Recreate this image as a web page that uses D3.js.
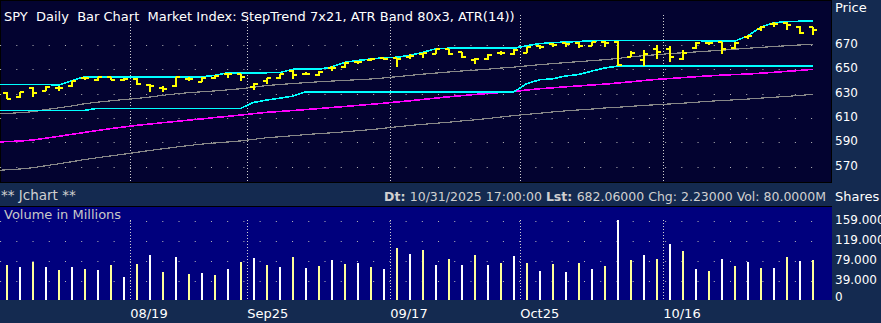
<!DOCTYPE html>
<html>
<head>
<meta charset="utf-8">
<script src="https://cdn.jsdelivr.net/npm/d3@7"></script>
<style>
  body { margin: 0; background: #142a50; }
  svg { display: block; font-family: "DejaVu Sans", sans-serif; }
  text { white-space: pre; }
</style>
</head>
<body>
<svg id="chart" width="881" height="323"></svg>
<script>
// trading days shown (aug 5 .. oct 31 2025)
var dates = ["08/05","08/06","08/07","08/08","08/11","08/12","08/13","08/14","08/15","08/18",
  "08/19","08/20","08/21","08/22","08/25","08/26","08/27","08/28","08/29",
  "09/02","09/03","09/04","09/05","09/08","09/09","09/10","09/11","09/12","09/15","09/16",
  "09/17","09/18","09/19","09/22","09/23","09/24","09/25","09/26","09/29","09/30",
  "10/01","10/02","10/03","10/06","10/07","10/08","10/09","10/10","10/13","10/14",
  "10/15","10/16","10/17","10/20","10/21","10/22","10/23","10/24","10/27","10/28",
  "10/29","10/30","10/31"];

var open = [630.3, 627.3, 635.0, 632.0, 634.9, 636.3, 643.2, 641.0, 643.5, 641.0,
  642.1, 637.2, 634.4, 636.1, 642.1, 639.9, 642.7, 646.0, 646.0, 635.5,
  640.5, 642.7, 648.7, 646.2, 645.4, 651.4, 652.2, 655.8, 657.7, 659.1,
  659.1, 660.2, 662.4, 662.4, 666.5, 664.3, 658.0, 658.6, 663.7, 662.7,
  663.5, 669.5, 670.7, 671.5, 672.0, 669.3, 672.8, 672.8, 660.5, 657.7,
  666.5, 666.5, 658.8, 667.4, 671.5, 672.3, 667.9, 676.9, 683.0, 687.4,
  688.4, 684.7, 684.7];
var high = [631.2, 631.6, 635.3, 636.1, 636.6, 640.7, 643.7, 643.7, 643.7, 642.7,
  642.7, 637.7, 636.6, 643.7, 643.7, 643.7, 645.4, 646.8, 646.0, 638.8,
  643.2, 646.5, 649.3, 647.6, 648.7, 652.6, 655.8, 656.9, 659.1, 659.6,
  659.1, 662.4, 663.7, 666.8, 666.8, 664.6, 659.1, 662.4, 665.1, 666.8,
  668.7, 670.1, 671.7, 671.7, 672.3, 672.8, 673.4, 673.4, 665.1, 666.0,
  670.1, 669.3, 665.7, 672.3, 672.8, 672.6, 672.3, 678.3, 685.7, 689.0,
  689.0, 685.5, 684.7];
var low = [625.6, 626.7, 627.0, 632.0, 632.5, 635.8, 641.0, 640.5, 641.0, 640.7,
  637.2, 631.2, 631.6, 635.8, 640.5, 639.4, 642.5, 643.2, 640.7, 632.8,
  638.0, 641.9, 641.9, 645.1, 644.6, 648.4, 651.4, 654.4, 657.2, 658.0,
  652.2, 658.8, 659.6, 662.4, 661.9, 659.6, 654.2, 657.7, 661.9, 661.9,
  663.3, 666.5, 668.2, 668.7, 667.4, 669.0, 668.7, 653.0, 660.5, 653.0,
  658.8, 656.3, 658.0, 667.0, 669.8, 662.9, 666.8, 675.3, 681.9, 684.7,
  682.7, 679.4, 678.6];
var close = [625.6, 631.4, 630.8, 635.8, 634.4, 640.5, 642.7, 643.5, 641.5, 642.1,
  638.0, 636.3, 634.1, 643.5, 641.9, 643.2, 644.6, 646.2, 643.5, 638.2,
  642.7, 646.5, 645.4, 646.5, 648.1, 650.9, 655.5, 656.1, 658.6, 658.3,
  658.3, 661.3, 663.3, 666.8, 662.7, 660.5, 658.6, 661.9, 663.7, 665.7,
  668.2, 668.7, 669.8, 670.7, 669.5, 672.3, 671.5, 653.6, 663.3, 662.4,
  664.3, 660.5, 663.7, 671.7, 671.7, 667.0, 671.7, 677.5, 685.1, 687.1,
  686.8, 679.7, 682.06];

// volume in millions
var volume = [70, 66, 77, 66, 60, 66, 62, 60, 70, 46,
  72, 90, 56, 86, 52, 54, 50, 62, 76, 84,
  70, 66, 86, 65, 69, 81, 73, 75, 67, 63,
  105, 93, 101, 71, 83, 71, 91, 71, 75, 89,
  75, 59, 73, 57, 75, 63, 69, 161, 81, 91,
  83, 113, 99, 63, 59, 83, 69, 77, 65, 65,
  87, 79, 80];

// steptrend 7x21 upper / lower
var stepUpper = [637.7, 637.7, 637.7, 637.7, 637.0, 640.8, 644.0, 644.0, 644.0, 644.0,
  644.0, 644.0, 644.0, 644.0, 644.0, 644.0, 645.1, 647.3, 647.3, 647.3,
  647.3, 647.4, 650.1, 650.1, 650.1, 652.0, 655.8, 657.4, 658.5, 659.6,
  660.0, 661.5, 664.0, 667.0, 667.4, 667.4, 667.4, 667.4, 667.4, 667.4,
  669.5, 671.2, 672.0, 672.5, 673.0, 673.5, 673.8, 673.8, 673.8, 673.8,
  673.8, 673.8, 673.8, 673.8, 673.3, 673.3, 673.3, 677.5, 684.7, 688.4,
  689.3, 689.6, 689.6];
var stepLower = [616.3, 616.3, 616.3, 616.3, 616.3, 616.3, 616.3, 618.0, 618.0, 618.0,
  618.0, 618.0, 618.0, 618.0, 618.0, 618.0, 618.0, 618.0, 618.0, 622.9,
  624.8, 626.3, 628.0, 631.5, 631.5, 631.5, 631.5, 631.5, 631.5, 631.5,
  631.5, 631.5, 631.5, 631.5, 631.5, 631.5, 631.5, 631.5, 631.5, 631.5,
  638.3, 641.5, 642.3, 644.6, 645.8, 648.6, 651.2, 652.7, 652.7, 652.7,
  652.7, 652.7, 652.7, 652.7, 652.7, 652.7, 652.7, 652.7, 652.7, 652.7,
  652.7, 652.7, 652.7];

// atr band 80x3 middle / lower, and the magenta trend
var bandMid = [613.5, 614.4, 615.2, 617.0, 618.4, 619.9, 621.8, 623.1, 624.2, 625.2,
  626.1, 627.3, 628.7, 629.9, 630.9, 631.6, 632.3, 633.2, 634.1, 635.4,
  636.7, 637.6, 638.4, 639.1, 639.8, 640.4, 641.0, 641.5, 642.1, 643.0,
  644.0, 645.0, 646.1, 647.0, 647.9, 648.7, 649.4, 650.2, 651.1, 651.9,
  652.9, 653.9, 654.8, 655.6, 656.4, 657.2, 658.0, 659.0, 660.3, 661.3,
  662.1, 663.0, 663.7, 664.4, 665.1, 665.8, 666.6, 667.4, 668.1, 668.8,
  669.5, 670.1, 670.7];
var bandLow = [567.1, 568.1, 569.1, 570.8, 572.4, 574.1, 575.9, 577.4, 578.9, 580.3,
  581.8, 583.3, 584.7, 586.1, 587.4, 588.6, 589.5, 590.3, 591.2, 592.5,
  593.8, 594.6, 595.5, 596.4, 597.2, 597.9, 598.7, 599.6, 600.5, 601.6,
  602.8, 603.9, 604.8, 605.7, 606.6, 607.6, 608.5, 609.6, 610.8, 612.0,
  613.0, 614.0, 615.0, 615.9, 616.7, 617.4, 618.3, 618.9, 619.6, 620.4,
  621.0, 621.6, 622.2, 623.0, 623.8, 624.4, 625.0, 625.6, 626.4, 627.1,
  627.8, 628.6, 629.5];
var trendLine = [590.4, 591.1, 591.9, 593.4, 595.0, 596.6, 598.2, 599.8, 601.3, 602.7,
  604.0, 605.1, 606.2, 607.2, 608.3, 609.3, 610.4, 611.4, 612.5, 613.6,
  614.7, 615.4, 616.2, 617.0, 617.8, 618.7, 619.5, 620.4, 621.3, 622.2,
  623.2, 624.2, 625.3, 626.4, 627.5, 628.4, 629.4, 630.2, 631.0, 631.9,
  633.0, 634.1, 634.9, 635.7, 636.4, 637.2, 637.9, 638.8, 639.8, 640.9,
  641.8, 642.5, 643.3, 644.0, 644.7, 645.3, 645.8, 646.2, 646.9, 647.6,
  648.4, 649.2, 650.1];

var priceTicks = [570, 590, 610, 630, 650, 670];
var volTicks = [0, 39, 79, 119, 159];
var sepDates = ["08/19", "09/02", "09/17", "10/01", "10/16"];
var sepLabels = ["08/19", "Sep25", "09/17", "Oct25", "10/16"];

var svg = d3.select("#chart"),
    width = +svg.attr("width"),
    height = +svg.attr("height"),
    panelW = 832,
    priceBottom = 182,
    volTop = 206,
    volBottom = 300;

var x = d3.scaleBand()
    .domain(dates)
    .range([0.2, 0.2 + 13 * dates.length]);
function xc(d) { return x(d) + x.bandwidth() / 2; }

var y = d3.scaleLinear().domain([570, 670]).range([166.7, 45.1]);
var yv = d3.scaleLinear().domain([0, 159]).range([volBottom, 220.7]);

// backgrounds
svg.append("rect").attr("width", width).attr("height", height).attr("fill", "#142a50");
svg.append("rect")
    .attr("x", 0.5).attr("y", 0.5)
    .attr("width", panelW - 1).attr("height", priceBottom)
    .attr("fill", "#030330").attr("stroke", "#000");
svg.append("rect")
    .attr("x", 0).attr("y", volTop)
    .attr("width", panelW).attr("height", volBottom - volTop)
    .attr("fill", "#00007d");
svg.append("line")
    .attr("x1", 0).attr("x2", panelW)
    .attr("y1", volTop + 0.5).attr("y2", volTop + 0.5)
    .attr("stroke", "#000");

// dotted grid
svg.append("g").selectAll("line")
  .data(priceTicks)
  .enter().append("line")
    .attr("x1", 0.1).attr("x2", 813)
    .attr("y1", function(d) { return Math.round(y(d)) + 0.5; })
    .attr("y2", function(d) { return Math.round(y(d)) + 0.5; })
    .attr("stroke", "#b8b8b8")
    .attr("stroke-dasharray", "1,15.22");

svg.append("g").selectAll("line")
  .data(volTicks.slice(1))
  .enter().append("line")
    .attr("x1", 0.1).attr("x2", 814)
    .attr("y1", function(d) { return Math.round(yv(d)) + 0.5; })
    .attr("y2", function(d) { return Math.round(yv(d)) + 0.5; })
    .attr("stroke", "#b8b8b8")
    .attr("stroke-dasharray", "1,15.22");

// month / week separators
var seps = svg.append("g")
    .attr("stroke", "#d0d0d0")
    .attr("stroke-dasharray", "1,2");
seps.selectAll(".sp")
  .data(sepDates)
  .enter().append("line")
    .attr("class", "sp")
    .attr("x1", function(d) { return Math.round(x(d)) + 0.5; })
    .attr("x2", function(d) { return Math.round(x(d)) + 0.5; })
    .attr("y1", 15).attr("y2", priceBottom);
seps.selectAll(".sv")
  .data(sepDates)
  .enter().append("line")
    .attr("class", "sv")
    .attr("x1", function(d) { return Math.round(x(d)) + 0.5; })
    .attr("x2", function(d) { return Math.round(x(d)) + 0.5; })
    .attr("y1", 220).attr("y2", volBottom);

// indicator lines
function seriesLine(vals) {
  return d3.line()
    .x(function(d, i) { return i === 0 ? x(dates[0]) : xc(dates[i]); })
    .y(function(d) { return y(d); })(vals);
}
var lines = [
  {vals: bandLow, color: "#888888", w: 1.2},
  {vals: bandMid, color: "#888888", w: 1.2},
  {vals: trendLine, color: "#ff00ff", w: 1.6},
  {vals: stepLower, color: "#00ffff", w: 1.6},
  {vals: stepUpper, color: "#00ffff", w: 1.6}
];
svg.append("g").selectAll("path")
  .data(lines)
  .enter().append("path")
    .attr("d", function(d) { return seriesLine(d.vals); })
    .attr("fill", "none")
    .attr("stroke", function(d) { return d.color; })
    .attr("stroke-width", function(d) { return d.w; })
    .attr("shape-rendering", "crispEdges");

// ohlc bars
var bar = svg.append("g")
    .attr("stroke", "#ffff00")
    .attr("stroke-width", 2)
    .attr("shape-rendering", "crispEdges")
  .selectAll("g")
  .data(dates)
  .enter().append("g");
bar.append("line")
    .attr("x1", xc).attr("x2", xc)
    .attr("y1", function(d, i) { return y(high[i]); })
    .attr("y2", function(d, i) { return y(low[i]); });
bar.append("line")
    .attr("x1", function(d) { return xc(d) - 4; })
    .attr("x2", xc)
    .attr("y1", function(d, i) { return y(open[i]); })
    .attr("y2", function(d, i) { return y(open[i]); });
bar.append("line")
    .attr("x1", xc)
    .attr("x2", function(d) { return xc(d) + 4; })
    .attr("y1", function(d, i) { return y(close[i]); })
    .attr("y2", function(d, i) { return y(close[i]); });

// volume bars
svg.append("g")
    .attr("shape-rendering", "crispEdges")
  .selectAll("line")
  .data(dates)
  .enter().append("line")
    .attr("x1", xc).attr("x2", xc)
    .attr("y1", yv(0))
    .attr("y2", function(d, i) { return yv(volume[i]); })
    .attr("stroke", function(d, i) { return i % 2 ? "#ffffff" : "#ffff99"; })
    .attr("stroke-width", 2);

// right axes
svg.append("g")
    .attr("transform", "translate(" + panelW + ",0)")
    .call(d3.axisRight(y).tickValues(priceTicks).tickSize(0).tickPadding(3))
    .call(function(g) { g.select(".domain").remove(); })
    .selectAll("text")
      .attr("fill", "#fff")
      .attr("font-size", 12)
      .attr("font-family", "DejaVu Sans")
      .attr("dy", "0.2em");

svg.append("g")
    .attr("transform", "translate(" + panelW + ",0)")
    .call(d3.axisRight(yv).tickValues(volTicks).tickSize(0).tickPadding(3)
      .tickFormat(function(d) { return d === 0 ? "0" : d3.format(".3f")(d); }))
    .call(function(g) { g.select(".domain").remove(); })
    .selectAll("text")
      .attr("fill", "#fff")
      .attr("font-size", 12)
      .attr("font-family", "DejaVu Sans")
      .attr("dy", function(d) { return d === 0 ? "0.05em" : "0.22em"; });

// date labels
svg.append("g").selectAll("text")
  .data(sepDates)
  .enter().append("text")
    .attr("x", function(d) { return x(d); })
    .attr("y", 318)
    .attr("fill", "#fff")
    .attr("font-size", 13)
    .text(function(d, i) { return sepLabels[i]; });

// titles and status line
svg.append("text")
    .attr("x", 4).attr("y", 21)
    .attr("fill", "#fff").attr("font-size", 13)
    .text("SPY  Daily  Bar Chart  Market Index: StepTrend 7x21, ATR Band 80x3, ATR(14))");
svg.append("text")
    .attr("x", 835).attr("y", 12)
    .attr("fill", "#fff").attr("font-size", 13)
    .text("Price");
svg.append("text")
    .attr("x", 835).attr("y", 201)
    .attr("fill", "#fff").attr("font-size", 13)
    .text("Shares");
svg.append("text")
    .attr("x", 1).attr("y", 200)
    .attr("fill", "#d0d0d0").attr("font-size", 13.5)
    .text("** Jchart **");
svg.append("text")
    .attr("x", 4).attr("y", 219)
    .attr("fill", "#c8c8c8").attr("font-size", 13)
    .text("Volume in Millions");

var statusLine = svg.append("text")
    .attr("x", 826).attr("y", 201)
    .attr("text-anchor", "end")
    .attr("fill", "#d0d0d0").attr("font-size", 12.5);
statusLine.append("tspan").attr("font-weight", "bold").text("Dt: ");
statusLine.append("tspan").text("10/31/2025 17:00:00 ");
statusLine.append("tspan").attr("font-weight", "bold").text("Lst: ");
statusLine.append("tspan").text("682.06000 Chg: 2.23000 Vol: 80.0000M");
</script>
</body>
</html>
